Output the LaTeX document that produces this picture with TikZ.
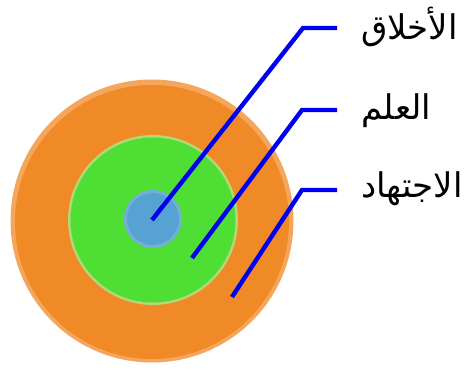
\documentclass[tikz,border=0pt]{standalone}
\usepackage{fontspec}
\newfontfamily\arabicfont[Script=Arabic]{DejaVu Sans}
\TeXXeTstate=1
\usepackage{tikz}

\definecolor{laranja}{RGB}{240,138,38}
\definecolor{verde}{RGB}{78,222,52}
\definecolor{azulclaro}{RGB}{86,162,210}
\definecolor{linha}{RGB}{0,0,240}

\begin{document}
\begin{tikzpicture}[
        x=1pt, y=-1pt,
        disco/.style={circle, inner sep=0pt},
        conector/.style={draw=linha, line width=4.4pt, line join=miter},
        rotulo/.style={anchor=west, inner sep=0pt, font=\arabicfont\fontsize{34}{40}\selectfont}
    ]

        \useasboundingbox (0,0) rectangle (465,371);

        % ==================================================
        % DISCOS
        % ==================================================

        \node[disco, minimum size=283pt, fill=laranja!75!white] (ijtihad) at (152,221) {};
        \node[disco, minimum size=274pt, fill=laranja] (ijtihadin) at (152,222) {};
        \node[disco, minimum size=170pt, fill=yellow!35!verde!70!white] (ilmborda) at (153,220) {};
        \node[disco, minimum size=165pt, fill=verde] (ilm) at (153,220) {};
        \node[disco, minimum size=58pt, fill=cyan!30!azulclaro!80!white] (akhlaqborda) at (153,219) {};
        \node[disco, minimum size=52pt, fill=azulclaro] (akhlaq) at (153,219) {};

        % ==================================================
        % ROTULOS
        % ==================================================

        \node[rotulo] (r1) at (361,27) {\beginR الأخلاق\endR};
        \node[rotulo] (r2) at (361,111) {\beginR العلم\endR};
        \node[rotulo] (r3) at (361,189) {\beginR الاجتهاد\endR};

        % Pontos das setas
        \coordinate (p1) at (152,220);
        \coordinate (p2) at (192,258);
        \coordinate (p3) at (232,297);
        \coordinate (c1) at (303,28);
        \coordinate (c2) at (302,110);
        \coordinate (c3) at (302,190);
        \coordinate (f1) at (337,28);
        \coordinate (f2) at (337,110);
        \coordinate (f3) at (337,190);

        % Setas
        \draw[conector] (p1) -- (c1) -- (f1);
        \draw[conector] (p2) -- (c2) -- (f2);
        \draw[conector] (p3) -- (c3) -- (f3);
    \end{tikzpicture}
\end{document}
